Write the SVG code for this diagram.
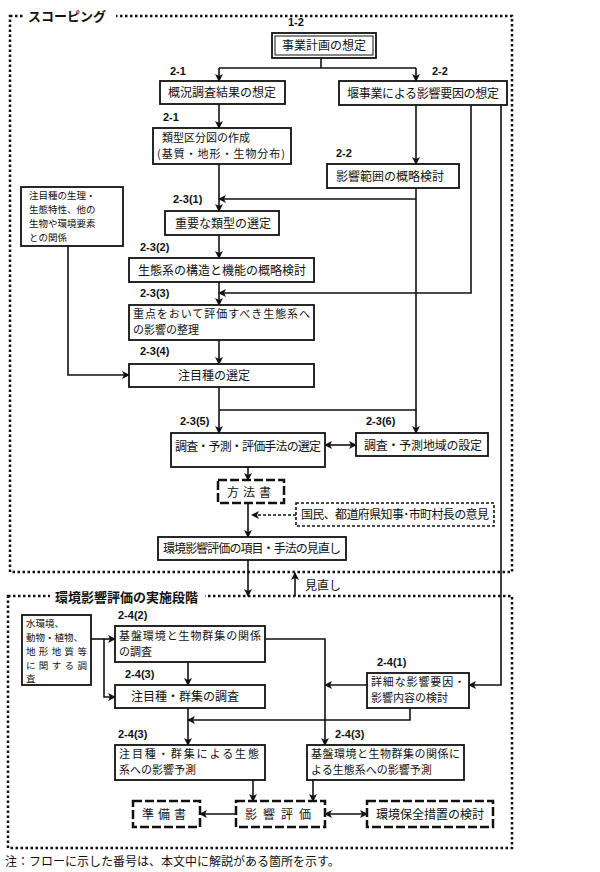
<svg xmlns="http://www.w3.org/2000/svg" width="600" height="872" viewBox="0 0 600 872">
<defs>
<marker id="a" markerWidth="8" markerHeight="8" refX="7" refY="4" orient="auto-start-reverse" markerUnits="userSpaceOnUse"><path d="M0,0 L8,4 L0,8 L2,4 z" fill="#111"/></marker>
<style>
text{font-family:"Noto Sans CJK JP","Liberation Sans",sans-serif;font-size:12px;fill:#111}
.n{font-family:"Liberation Sans","Noto Sans CJK JP",sans-serif;font-size:11px;font-weight:bold}
.s{font-size:9.5px}
.m{font-size:11px}
.b{fill:#fff;stroke:#111;stroke-width:1.8}
.d{fill:#fff;stroke:#111;stroke-width:2.5;stroke-dasharray:9,3}
.f{fill:none;stroke:#111;stroke-width:2.5;stroke-dasharray:2.5,2.5}
.c path{fill:none;stroke:#111;stroke-width:1.6}
.t{font-weight:bold;font-size:13px}
</style>
</defs>
<rect width="600" height="872" fill="#fff"/>
<rect class="f" x="10" y="16" width="502" height="556"/>
<rect x="24" y="6" width="92" height="18" fill="#fff"/>
<text class="t" x="28" y="21">スコーピング</text>
<rect class="f" x="8" y="596" width="504" height="252"/>
<rect x="50" y="588" width="155" height="18" fill="#fff"/>
<text class="t" x="55" y="602">環境影響評価の実施段階</text>

<g class="c">
<path d="M321,58 V68 M219,68 H416"/>
<path d="M219,68 V81" marker-end="url(#a)"/>
<path d="M416,68 V81" marker-end="url(#a)"/>
<path d="M219,104 V128" marker-end="url(#a)"/>
<path d="M416,105 V164" marker-end="url(#a)"/>
<path d="M219,164 V211" marker-end="url(#a)"/>
<path d="M416,188 V410 M416,199 H219" marker-end="url(#a)"/>
<path d="M219,235 V258" marker-end="url(#a)"/>
<path d="M471,105 V293 H219" marker-end="url(#a)"/>
<path d="M219,282 V305" marker-end="url(#a)"/>
<path d="M219,340 V364" marker-end="url(#a)"/>
<path d="M68,246 V375 H129" marker-end="url(#a)"/>
<path d="M219,387 V433" marker-end="url(#a)"/>
<path d="M219,410 H416 V433" marker-end="url(#a)"/>
<path d="M325,445 H356" marker-start="url(#a)" marker-end="url(#a)"/>
<path d="M248,467 V480" marker-end="url(#a)"/>
<path d="M248,503 V537" marker-end="url(#a)"/>
<path d="M296,515 H252" stroke-dasharray="3,2" marker-end="url(#a)"/>
<path d="M248,560 V596" marker-end="url(#a)"/>
<path d="M295,596 V573" marker-end="url(#a)"/>
<path d="M501,105 V685 H469" marker-end="url(#a)"/>
<path d="M91,639 H115" marker-end="url(#a)"/>
<path d="M104,639 V697 H115" marker-end="url(#a)"/>
<path d="M188,662 V685" marker-end="url(#a)"/>
<path d="M265,639 H325 V745" marker-end="url(#a)"/>
<path d="M367,685 H325" marker-end="url(#a)"/>
<path d="M410,708 V720 H188" marker-end="url(#a)"/>
<path d="M188,708 V745" marker-end="url(#a)"/>
<path d="M253,780 V801" marker-end="url(#a)"/>
<path d="M313,780 V801" marker-end="url(#a)"/>
<path d="M236,814 H200" marker-end="url(#a)"/>
<path d="M325,814 H367" marker-start="url(#a)" marker-end="url(#a)"/>
</g>

<text class="n" x="288" y="26">1-2</text>
<g id="n12"><rect class="b" x="272" y="33" width="104" height="25"/><rect x="275" y="36" width="98" height="19" fill="none" stroke="#111" stroke-width="1"/><text x="324" y="50" text-anchor="middle">事業計画の想定</text></g>
<text class="n" x="170" y="75">2-1</text>
<g id="n21a"><rect class="b" x="160" y="81" width="125" height="23"/><text x="168" y="97">概況調査結果の想定</text></g>
<text class="n" x="432" y="75">2-2</text>
<g id="n22a"><rect class="b" x="339" y="81" width="168" height="24"/><text x="347" y="98" textLength="152">堰事業による影響要因の想定</text></g>
<text class="n" x="163" y="121">2-1</text>
<g id="n21b"><rect class="b" x="153" y="128" width="138" height="36"/><text class="m" x="162" y="142">類型区分図の作成</text><text class="m" x="157" y="158" textLength="128">(基質・地形・生物分布)</text></g>
<text class="n" x="336" y="157">2-2</text>
<g id="n22b"><rect class="b" x="327" y="164" width="132" height="24"/><text x="336" y="181">影響範囲の概略検討</text></g>
<g id="nl"><rect class="b" x="21" y="187" width="102" height="59"/><text class="s" x="29" y="199">注目種の生理・</text><text class="s" x="29" y="213">生態特性、他の</text><text class="s" x="29" y="227">生物や環境要素</text><text class="s" x="29" y="241">との関係</text></g>
<text class="n" x="173" y="203">2-3(1)</text>
<g id="n231"><rect class="b" x="165" y="211" width="114" height="24"/><text x="175" y="228">重要な類型の選定</text></g>
<text class="n" x="140" y="251">2-3(2)</text>
<g id="n232"><rect class="b" x="129" y="258" width="185" height="24"/><text x="138" y="275">生態系の構造と機能の概略検討</text></g>
<text class="n" x="140" y="297">2-3(3)</text>
<g id="n233"><rect class="b" x="129" y="305" width="185" height="35"/><text class="m" x="133" y="318" textLength="177">重点をおいて評価すべき生態系へ</text><text class="m" x="133" y="334">の影響の整理</text></g>
<text class="n" x="140" y="355">2-3(4)</text>
<g id="n234"><rect class="b" x="129" y="364" width="185" height="23"/><text x="178" y="380">注目種の選定</text></g>
<text class="n" x="180" y="425">2-3(5)</text>
<g id="n235"><rect class="b" x="171" y="433" width="154" height="34"/><text x="175" y="451" textLength="146">調査・予測・評価手法の選定</text></g>
<text class="n" x="366" y="425">2-3(6)</text>
<g id="n236"><rect class="b" x="356" y="433" width="132" height="23"/><text x="364" y="450" textLength="118">調査・予測地域の設定</text></g>
<g id="hoho"><rect class="d" x="218" y="480" width="66" height="23"/><text x="251" y="497" text-anchor="middle" letter-spacing="4">方法書</text></g>
<g id="iken"><rect x="296" y="503" width="198" height="23" fill="#fff" stroke="#111" stroke-width="1.6" stroke-dasharray="3,2"/><text x="301" y="519" textLength="188">国民、都道府県知事･市町村長の意見</text></g>
<g id="minaoshi"><rect class="b" x="158" y="537" width="188" height="23"/><text x="163" y="553" textLength="178">環境影響評価の項目・手法の見直し</text></g>
<text x="305" y="590">見直し</text>

<g id="mizu"><rect class="b" x="22" y="615" width="69" height="70"/><text class="s" x="26" y="627">水環境、</text><text class="s" x="26" y="641">動物・植物、</text><text class="s" x="26" y="655" textLength="61">地形地質等</text><text class="s" x="26" y="669" textLength="61">に関する調</text><text class="s" x="26" y="682">査</text></g>
<text class="n" x="118" y="619">2-4(2)</text>
<g id="n242"><rect class="b" x="115" y="626" width="150" height="36"/><text class="m" x="119" y="640" textLength="142">基盤環境と生物群集の関係</text><text class="m" x="119" y="656">の調査</text></g>
<text class="n" x="125" y="678">2-4(3)</text>
<g id="n243a"><rect class="b" x="115" y="685" width="150" height="23"/><text x="131" y="701">注目種・群集の調査</text></g>
<text class="n" x="377" y="666">2-4(1)</text>
<g id="n241"><rect class="b" x="367" y="673" width="102" height="35"/><text class="m" x="371" y="686" textLength="94">詳細な影響要因・</text><text class="m" x="371" y="702">影響内容の検討</text></g>
<text class="n" x="118" y="738">2-4(3)</text>
<g id="n243b"><rect class="b" x="115" y="745" width="150" height="35"/><text class="m" x="119" y="758" textLength="140">注目種・群集による生態</text><text class="m" x="119" y="774">系への影響予測</text></g>
<text class="n" x="335" y="738">2-4(3)</text>
<g id="n243c"><rect class="b" x="307" y="745" width="157" height="35"/><text class="m" x="311" y="758" textLength="149">基盤環境と生物群集の関係に</text><text class="m" x="311" y="774">よる生態系への影響予測</text></g>
<g id="junbi"><rect class="d" x="133" y="801" width="67" height="26"/><text x="166" y="819" text-anchor="middle" letter-spacing="4">準備書</text></g>
<g id="eikyo"><rect class="d" x="236" y="801" width="89" height="26"/><text x="281" y="819" text-anchor="middle" letter-spacing="6">影響評価</text></g>
<g id="hozen"><rect class="d" x="367" y="801" width="126" height="26"/><text x="430" y="819" text-anchor="middle">環境保全措置の検討</text></g>
<text x="5" y="866">注：フローに示した番号は、本文中に解説がある箇所を示す。</text>
</svg>
